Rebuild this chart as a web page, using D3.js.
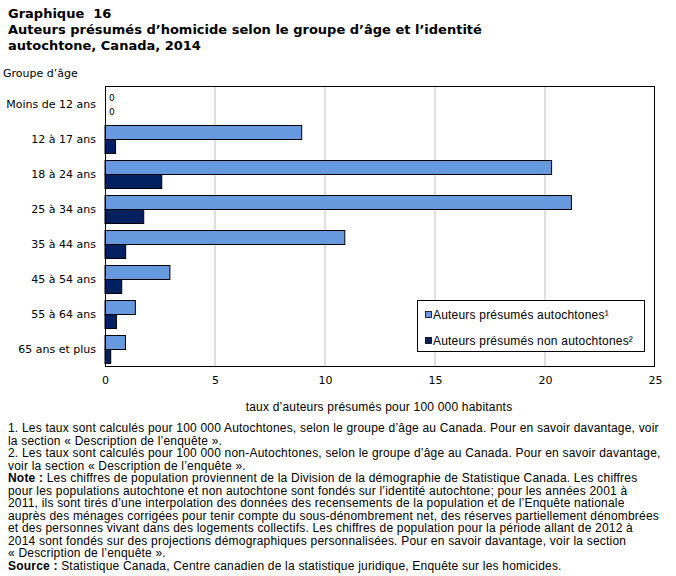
<!DOCTYPE html>
<html><head><meta charset="utf-8">
<script src="https://cdn.jsdelivr.net/npm/d3@7"></script>
<style>body{margin:0;background:#fff}svg{display:block}</style>
</head><body>
<script>
const categories = ["Moins de 12 ans","12 à 17 ans","18 à 24 ans","25 à 34 ans","35 à 44 ans","45 à 54 ans","55 à 64 ans","65 ans et plus"];
const autochtones = [0, 8.94, 20.3, 21.2, 10.9, 2.95, 1.38, 0.93];
const nonAutochtones = [0, 0.48, 2.58, 1.76, 0.94, 0.76, 0.52, 0.26];
const seriesNames = ["Auteurs présumés autochtones¹","Auteurs présumés non autochtones²"];
const seriesColors = ["#6699DD","#002060"];
const xTicks = [0,5,10,15,20,25];
const titleLines = ["Graphique  16","Auteurs présumés d’homicide selon le groupe d’âge et l’identité","autochtone, Canada, 2014"];
const notes = [
 [null,"1. Les taux sont calculés pour 100 000 Autochtones, selon le groupe d’âge au Canada. Pour en savoir davantage, voir"],
 [null,"la section « Description de l’enquête »."],
 [null,"2. Les taux sont calculés pour 100 000 non-Autochtones, selon le groupe d’âge au Canada. Pour en savoir davantage,"],
 [null,"voir la section « Description de l’enquête »."],
 ["Note :"," Les chiffres de population proviennent de la Division de la démographie de Statistique Canada. Les chiffres"],
 [null,"pour les populations autochtone et non autochtone sont fondés sur l’identité autochtone; pour les années 2001 à"],
 [null,"2011, ils sont tirés d’une interpolation des données des recensements de la population et de l’Enquête nationale"],
 [null,"auprès des ménages corrigées pour tenir compte du sous-dénombrement net, des réserves partiellement dénombrées"],
 [null,"et des personnes vivant dans des logements collectifs. Les chiffres de population pour la période allant de 2012 à"],
 [null,"2014 sont fondés sur des projections démographiques personnalisées. Pour en savoir davantage, voir la section"],
 [null,"« Description de l’enquête »."],
 ["Source :"," Statistique Canada, Centre canadien de la statistique juridique, Enquête sur les homicides."]
];

const W=676,H=576;
const svg=d3.select("body").append("svg").attr("width",W).attr("height",H);
const F="'DejaVu Sans', Verdana, sans-serif";
const F2="'Liberation Sans', Arial, sans-serif";

svg.selectAll("text.title").data(titleLines).join("text")
  .attr("x",8).attr("y",(d,i)=>18+i*16)
  .attr("font-family",F).attr("font-weight","bold").attr("font-size",13).attr("fill","#000")
  .style("white-space","pre")
  .text(d=>d);
svg.append("text").attr("x",3).attr("y",77).attr("font-family",F).attr("font-size",11).text("Groupe d’âge");

const L=105,R=655,T=86,B=367;
const x=d3.scaleLinear().domain([0,25]).range([L,R]);
const y=d3.scaleBand().domain(categories).range([T,B]);
const barH=14;

// gridlines
svg.append("g").selectAll("line").data(xTicks.filter(t=>t>0&&t<25)).join("line")
  .attr("x1",d=>x(d)).attr("x2",d=>x(d)).attr("y1",T).attr("y2",B)
  .attr("stroke","#BFBFBF").attr("stroke-width",1);

const data=categories.map((c,i)=>({c,vals:[autochtones[i],nonAutochtones[i]]}));
const g=svg.append("g");
data.forEach(d=>{
  const cy=y(d.c)+y.bandwidth()/2;
  d.vals.forEach((v,j)=>{
    const yy=Math.round(cy-barH+j*barH)+0.5;
    if(v>0){
      g.append("rect").attr("x",x(0)).attr("y",yy).attr("width",x(v)-x(0)).attr("height",barH)
        .attr("fill",seriesColors[j]).attr("stroke","#000").attr("stroke-width",1);
    } else {
      g.append("text").attr("x",x(0)+4).attr("y",yy+barH/2+3.5).attr("font-family",F).attr("font-size",9).text("0");
    }
  });
});

// border
svg.append("rect").attr("x",L+0.5).attr("y",T+0.5).attr("width",R-L-1).attr("height",B-T-1)
  .attr("fill","none").attr("stroke","#000").attr("stroke-width",1);

// y labels
svg.append("g").selectAll("text").data(categories).join("text")
  .attr("x",96).attr("y",d=>y(d)+y.bandwidth()/2+4).attr("text-anchor","end")
  .attr("font-family",F).attr("font-size",11).text(d=>d);

// x axis
const xa=svg.append("g").attr("transform",`translate(0,${B})`).call(d3.axisBottom(x).tickValues(xTicks).tickSize(0).tickPadding(9));
xa.select(".domain").remove();
xa.selectAll("text").attr("font-family",F).attr("font-size",11).attr("fill","#000");
svg.append("text").attr("x",379).attr("y",411).attr("text-anchor","middle").attr("font-family",F2).attr("font-size",12).attr("letter-spacing",0.2)
  .text("taux d’auteurs présumés pour 100 000 habitants");

// legend
const lg=svg.append("g");
lg.append("rect").attr("x",417.5).attr("y",300.5).attr("width",227).attr("height",51).attr("fill","#fff").attr("stroke","#000");
seriesNames.forEach((n,i)=>{
  const yy=315+i*26;
  lg.append("rect").attr("x",425.5).attr("y",yy-3.5).attr("width",6).attr("height",6).attr("fill",seriesColors[i]).attr("stroke","#000").attr("stroke-width",0.8);
  lg.append("text").attr("x",433).attr("y",yy+4).attr("font-family",F2).attr("font-size",12).attr("letter-spacing",0.2).text(n);
});

// notes
const nt=svg.append("g");
notes.forEach((n,i)=>{
  const t=nt.append("text").attr("x",8).attr("y",432+i*12.5).attr("font-family",F2).attr("font-size",12).attr("letter-spacing",0.2).attr("fill","#000");
  if(n[0]) t.append("tspan").attr("font-weight","bold").text(n[0]);
  t.append("tspan").text(n[1]);
});
</script>
</body></html>
